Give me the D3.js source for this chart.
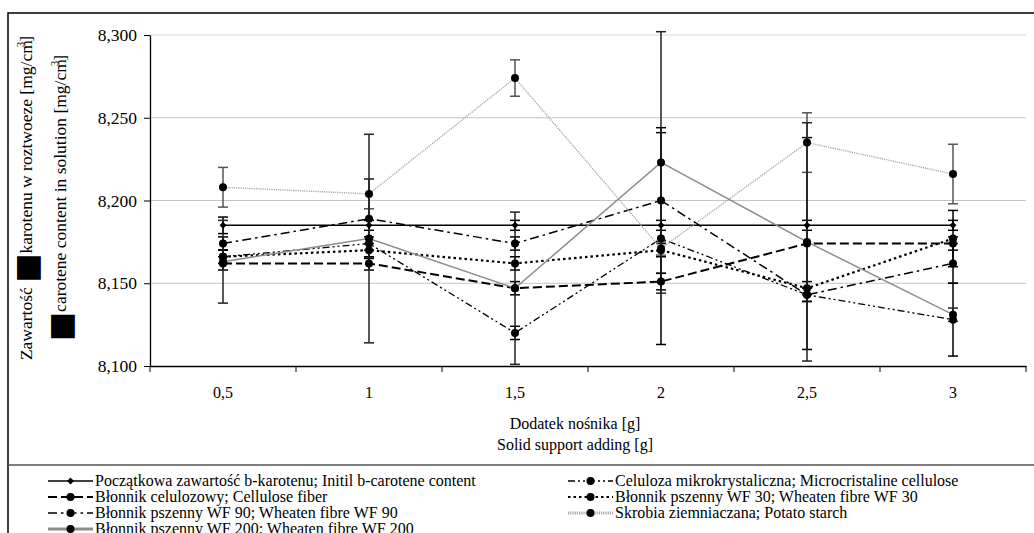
<!DOCTYPE html>
<html><head><meta charset="utf-8">
<script src="https://cdn.jsdelivr.net/npm/d3@7"></script>
<style>body{margin:0;background:#fff}svg{display:block}</style>
</head><body>
<svg id="c" width="1034" height="533"></svg>
<script>
// ---- data ----
const categories = ["0,5","1","1,5","2","2,5","3"];
const yTicks = [8.100, 8.150, 8.200, 8.250, 8.300];
const seriesNames = [
  "Początkowa zawartość b-karotenu; Initil b-carotene content",
  "Celuloza mikrokrystaliczna; Microcristaline cellulose",
  "Błonnik celulozowy; Cellulose fiber",
  "Błonnik pszenny WF 30; Wheaten fibre WF 30",
  "Błonnik pszenny WF 90; Wheaten fibre WF 90",
  "Skrobia ziemniaczana; Potato starch",
  "Błonnik pszenny WF 200; Wheaten fibre WF 200"
];
const initialValues   = [8.185, 8.185, 8.185, 8.185, 8.185, 8.185];
const mccValues       = [8.166, 8.174, 8.120, 8.177, 8.143, 8.128];
const fiberValues     = [8.162, 8.162, 8.147, 8.151, 8.174, 8.174];
const wf30Values      = [8.166, 8.170, 8.162, 8.170, 8.147, 8.177];
const wf90Values      = [8.174, 8.189, 8.174, 8.200, 8.143, 8.162];
const potatoValues    = [8.208, 8.204, 8.274, 8.171, 8.235, 8.216];
const wf200Values     = [8.163, 8.177, 8.147, 8.223, 8.175, 8.131];

const initialErr = [0.005, 0.003, 0.003, 0.003, 0.003, 0.003];
const mccErr     = [0.004, 0.004, 0.004, 0.064, 0.004, 0.022];
const fiberErr   = [0.004, 0.004, 0.004, 0.005, 0.064, 0.004];
const wf30Err    = [0.004, 0.004, 0.004, 0.004, 0.004, 0.017];
const wf90Err    = [0.004, 0.024, 0.004, 0.044, 0.004, 0.012];
const potatoErr  = [0.012, 0.009, 0.011, 0.004, 0.018, 0.018];
const wf200Err   = [0.025, 0.063, 0.046, 0.079, 0.072, 0.004];

// ---- styles (not data) ----
const styles = [
  {color:"#000", width:1.5, dash:null, marker:"diamond", err:"#000"},
  {color:"#000", width:1.3, dash:"7,3,2,3,2,3", marker:"circle", err:"#000"},
  {color:"#000", width:2, dash:"9,4", marker:"circle", err:"#000"},
  {color:"#000", width:2.2, dash:"2.5,3", marker:"circle", err:"#000"},
  {color:"#000", width:1.5, dash:"9,4,2.5,4", marker:"circle", err:"#000"},
  {color:"#a8a8a8", width:1.4, dash:"1.2,1", marker:"circle", err:"#555"},
  {color:"#8c8c8c", width:1.5, dash:null, marker:"circle", err:"#222"}
];
const valueSets = [initialValues, mccValues, fiberValues, wf30Values, wf90Values, potatoValues, wf200Values];
const errSets = [initialErr, mccErr, fiberErr, wf30Err, wf90Err, potatoErr, wf200Err];
const series = seriesNames.map((n,i)=>({name:n, values:valueSets[i], err:errSets[i], style:styles[i]}));

const svg = d3.select("#c");
const FONT = "'Liberation Serif','Times New Roman',serif";
const L = 150, R = 1026, T = 35, B = 366;

const x = d3.scaleBand().domain(categories).range([L, R]).padding(0);
const cx = c => x(c) + x.bandwidth()/2;
const y = d3.scaleLinear().domain([8.1, 8.3]).range([B, T]);

// outer frame
svg.append("rect").attr("x",8).attr("y",13).attr("width",1040).attr("height",600)
  .attr("fill","none").attr("stroke","#000").attr("stroke-width",1.5);
// legend separator
svg.append("line").attr("x1",8).attr("x2",1034).attr("y1",465).attr("y2",465)
  .attr("stroke","#555").attr("stroke-width",1.5);

// gridlines
svg.append("g").selectAll("line").data(yTicks.filter(v=>v>8.1)).join("line")
  .attr("x1",L).attr("x2",R).attr("y1",d=>y(d)).attr("y2",d=>y(d))
  .attr("stroke",d=>d>=8.3?"#ebebeb":"#c4c4c4").attr("stroke-width",d=>d>=8.3?2:1);

// y axis
const yAxis = svg.append("g").attr("transform",`translate(${L},0)`)
  .call(d3.axisLeft(y).tickValues(yTicks).tickSizeInner(6).tickSizeOuter(0).tickPadding(7)
    .tickFormat(d=>d3.format(".3f")(d).replace(".",",")));
yAxis.selectAll("text").attr("font-family",FONT).attr("font-size",17.5).attr("fill","#000");
yAxis.selectAll("line,path").attr("stroke","#000");
yAxis.select("path").attr("stroke-width",1.3);

// x axis
const xAxis = svg.append("g").attr("transform",`translate(0,${B})`)
  .call(d3.axisBottom(x).tickSizeInner(0).tickSizeOuter(0).tickPadding(21));
xAxis.selectAll("text").attr("font-family",FONT).attr("font-size",16).attr("fill","#000");
xAxis.select("path").attr("stroke","#000").attr("stroke-width",1.3);
xAxis.selectAll(".tick line").remove();
const bounds = categories.map(c=>x(c)).concat([x(categories[categories.length-1])+x.bandwidth()]);
xAxis.selectAll("line.bt").data(bounds).join("line").attr("class","bt")
  .attr("x1",d=>d).attr("x2",d=>d).attr("y1",0).attr("y2",6).attr("stroke","#000");

// error bars
const eg = svg.append("g");
series.forEach(s=>{
  categories.forEach((c,i)=>{
    const e = s.err[i]; if(!e) return;
    const px = cx(c), y1 = y(s.values[i]+e), y2 = y(s.values[i]-e);
    const g = eg.append("g").attr("stroke",s.style.err).attr("stroke-width",1.5);
    g.append("line").attr("x1",px).attr("x2",px).attr("y1",y1).attr("y2",y2);
    g.append("line").attr("x1",px-5).attr("x2",px+5).attr("y1",y1).attr("y2",y1);
    g.append("line").attr("x1",px-5).attr("x2",px+5).attr("y1",y2).attr("y2",y2);
  });
});

// lines
const line = d3.line().x((d,i)=>cx(categories[i])).y(d=>y(d));
const lg = svg.append("g");
series.forEach(s=>{
  lg.append("path").attr("d",line(s.values)).attr("fill","none")
    .attr("stroke",s.style.color).attr("stroke-width",s.style.width)
    .attr("stroke-dasharray",s.style.dash);
});
// markers
function marker(g, type, px, py){
  if(type==="diamond"){
    g.append("path").attr("d",`M${px},${py-3.5}L${px+3.5},${py}L${px},${py+3.5}L${px-3.5},${py}Z`).attr("fill","#000");
  } else {
    g.append("circle").attr("cx",px).attr("cy",py).attr("r",4).attr("fill","#000");
  }
}
const mg = svg.append("g");
series.forEach(s=>{
  s.values.forEach((v,i)=>marker(mg, s.style.marker, cx(categories[i]), y(v)));
});

// axis titles
svg.append("text").attr("x",575).attr("y",429).attr("text-anchor","middle")
  .attr("font-family",FONT).attr("font-size",16).text("Dodatek nośnika [g]");
svg.append("text").attr("x",575).attr("y",450).attr("text-anchor","middle")
  .attr("font-family",FONT).attr("font-size",16).text("Solid support adding [g]");

// y title (rotated, two lines)
function yTitle(bx, parts){
  const t = svg.append("text").attr("transform",`translate(${bx},198) rotate(-90)`)
    .attr("text-anchor","middle").attr("font-family",FONT).attr("font-size",17.5);
  parts.forEach(p=>{
    const ts = t.append("tspan").text(p.t);
    if(p.box) ts.attr("font-family","'DejaVu Sans'").attr("font-size",31).attr("dy",5);
    if(p.after) ts.attr("dy",-5);
    if(p.sup) ts.attr("font-size",11).attr("dy",-8).attr("dx",-7);
    if(p.unsup) ts.attr("dy",8);
  });
}
yTitle(32, [{t:"Zawartość "},{t:"■",box:true},{t:"karotenu w roztwoeze [mg/cm",after:true},{t:"3",sup:true},{t:"]",unsup:true}]);
yTitle(66, [{t:"■",box:true},{t:"carotene content in solution [mg/cm",after:true},{t:"3",sup:true},{t:"]",unsup:true}]);

// legend
const legX = [48, 568];
const legRowY = [486, 502, 518, 534];
series.forEach((s,i)=>{
  const col = i%2, row = Math.floor(i/2);
  const lx = legX[col], ly = legRowY[row]-5;
  const g = svg.append("g");
  g.append("line").attr("x1",lx).attr("x2",lx+45).attr("y1",ly).attr("y2",ly)
    .attr("stroke",s.style.color).attr("stroke-width",s.style.color==="#000"?s.style.width:3)
    .attr("stroke-dasharray",s.style.dash);
  marker(g, s.style.marker, lx+22.5, ly);
  g.append("text").attr("x",lx+47).attr("y",legRowY[row]).attr("font-family",FONT)
    .attr("font-size",16).text(s.name);
});
</script>
</body></html>
